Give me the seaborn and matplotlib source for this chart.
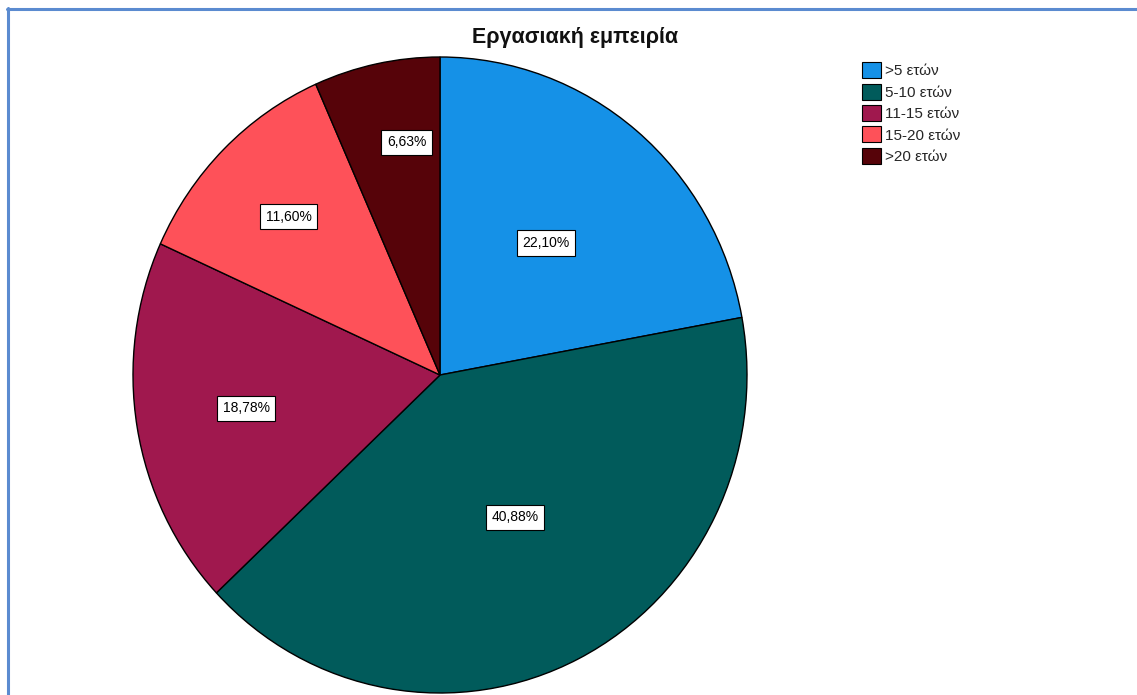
import matplotlib
matplotlib.use("Agg")
import matplotlib.pyplot as plt
from matplotlib.lines import Line2D
import numpy as np
import seaborn as sns

categories = [">5 ετών", "5-10 ετών", "11-15 ετών", "15-20 ετών", ">20 ετών"]
percentages = [22.10, 40.88, 18.78, 11.60, 6.63]
title = "Εργασιακή εμπειρία"

colors = ["#1591E7", "#015B5B", "#A0184E", "#FE5159", "#560309"]
label_dist = [0.54, 0.51, 0.64, 0.70, 0.74]
label_shift = [0, -1.8, 0, 0, 3.5]

sns.set_theme(style="white")
plt.rcParams["font.family"] = ["Liberation Sans", "DejaVu Sans"]

fig = plt.figure(figsize=(11.37, 6.95), dpi=100)
W, H = 1137, 695
cx, cy, rx, ry = 440, 375, 307, 318
ax = fig.add_axes([(cx - rx) / W, (H - cy - ry) / H, 2 * rx / W, 2 * ry / H])

wedges, _ = ax.pie(percentages, colors=colors, startangle=90, counterclock=False,
                   radius=1, wedgeprops=dict(edgecolor="black", linewidth=1.0))
ax.set_aspect("auto")
ax.set_xlim(-1, 1)
ax.set_ylim(-1, 1)
ax.axis("off")

for w, p, d, s in zip(wedges, percentages, label_dist, label_shift):
    ang = np.deg2rad((w.theta1 + w.theta2) / 2 - s)
    ax.text(d * np.cos(ang), d * np.sin(ang), f"{p:.2f}%".replace(".", ","),
            ha="center", va="center", fontsize=10, color="black",
            bbox=dict(boxstyle="square,pad=0.4", facecolor="white",
                      edgecolor="black", linewidth=0.8))

fig.text(575 / W, 1 - 38 / H, title, ha="center", va="center",
         fontsize=15.5, fontweight="bold", color="#111111")

leg = fig.legend(wedges, categories, loc="upper left",
                 bbox_to_anchor=(856 / W, 1 - 56 / H), frameon=False,
                 fontsize=11, handlelength=1.25, handleheight=1.25,
                 handletextpad=0.25, labelspacing=0.34, borderaxespad=0)
for h in leg.legend_handles:
    h.set_edgecolor("black")
    h.set_linewidth(0.8)

border = "#5B8BD0"
fig.add_artist(Line2D([7.5 / W, 7.5 / W], [0, 1 - 8 / H], color=border,
                      linewidth=2.2, transform=fig.transFigure))
fig.add_artist(Line2D([7 / W, 1], [1 - 8.5 / H, 1 - 8.5 / H], color=border,
                      linewidth=2.2, transform=fig.transFigure))

fig.savefig("out.png", dpi=100, facecolor="white")
